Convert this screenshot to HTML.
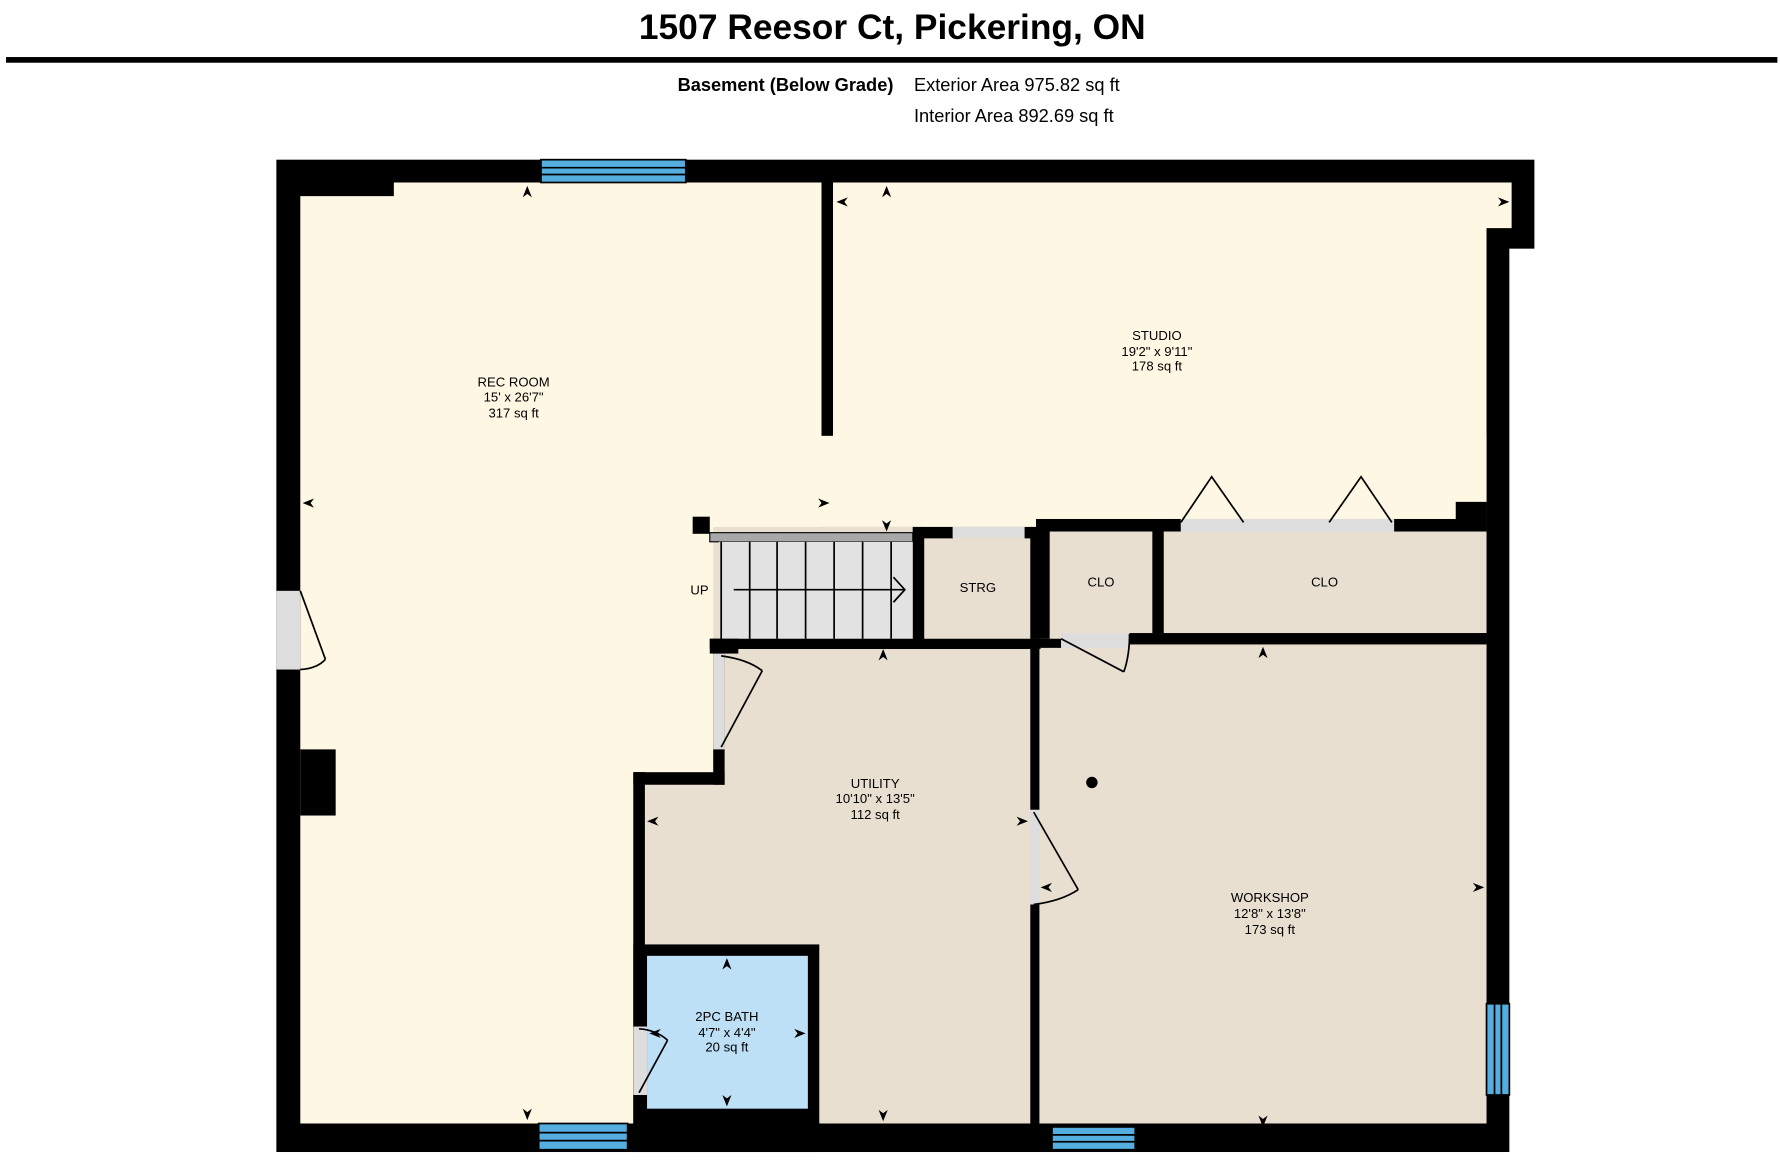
<!DOCTYPE html>
<html><head><meta charset="utf-8"><style>
html,body{margin:0;padding:0;background:#fff;}
svg{display:block;}
text{font-family:"Liberation Sans",Arial,sans-serif;}
</style></head><body>
<svg width="1780" height="1160" viewBox="0 0 1560 1017" xmlns="http://www.w3.org/2000/svg">
<defs>
<path id="ar" d="M0,0 L-10,-4 L-7,0 L-10,4 Z" fill="#000"/>
</defs>
<rect width="1560" height="1017" fill="#fff"/>
<text x="782" y="34" font-size="31" font-weight="bold" text-anchor="middle">1507 Reesor Ct, Pickering, ON</text>
<rect x="5" y="50" width="1553" height="5" fill="#000"/>
<text x="783" y="80" font-size="16" font-weight="bold" text-anchor="end">Basement (Below Grade)</text>
<text x="801" y="80" font-size="16">Exterior Area 975.82 sq ft</text>
<text x="801" y="107" font-size="16">Interior Area 892.69 sq ft</text>

<rect x="242" y="140" width="1103" height="870" fill="#000"/>
<rect x="1323" y="218" width="40" height="800" fill="#fff"/>
<rect x="1345" y="140" width="20" height="80" fill="#fff"/>
<polygon points="263,172 345,172 345,160 720,160 720,462 607,462 607,677 555,677 555,985 263,985" fill="#fdf7e3"/>
<polygon points="730,160 1325,160 1325,200 1303,200 1303,440 1276,440 1276,455 730,455" fill="#fdf7e3"/>
<rect x="620" y="382" width="683" height="80" fill="#fdf7e3"/>
<rect x="1276" y="440" width="27" height="25" fill="#000"/>
<rect x="720" y="160" width="10" height="222" fill="#000"/>
<rect x="565" y="462" width="738" height="523" fill="#e8dfd0"/>
<rect x="565" y="462" width="60" height="215" fill="#fdf7e3"/>
<rect x="555" y="677" width="10" height="308" fill="#000"/>
<rect x="555" y="677" width="80" height="11" fill="#000"/>
<rect x="625" y="560" width="10" height="128" fill="#000"/>
<rect x="625" y="573" width="10" height="84" fill="#ddd"/>
<rect x="607" y="453" width="15" height="15" fill="#000"/>
<rect x="622" y="467" width="178" height="8" fill="#a8a8a8" stroke="#000" stroke-width="1"/>
<rect x="630" y="475" width="170" height="85" fill="#e2e2e2"/>
<g stroke="#000" stroke-width="1.5">
<line x1="632" y1="475" x2="632" y2="560"/><line x1="657" y1="475" x2="657" y2="560"/><line x1="681" y1="475" x2="681" y2="560"/><line x1="706" y1="475" x2="706" y2="560"/><line x1="731" y1="475" x2="731" y2="560"/><line x1="756" y1="475" x2="756" y2="560"/><line x1="781" y1="475" x2="781" y2="560"/>
<line x1="643" y1="517" x2="793" y2="517"/><polyline points="783,506 793,517 783,528" fill="none"/>
</g>
<rect x="800" y="462" width="35" height="10" fill="#000"/>
<rect x="835" y="462" width="65" height="9" fill="#ddd"/>
<rect x="898" y="462" width="10" height="10" fill="#000"/>
<rect x="908" y="455" width="127" height="11" fill="#000"/>
<rect x="1035" y="455" width="187" height="11" fill="#ddd"/>
<rect x="1222" y="455" width="81" height="11" fill="#000"/>
<rect x="800" y="462" width="10" height="103" fill="#000"/>
<rect x="903" y="462" width="17" height="98" fill="#000"/>
<rect x="1010" y="462" width="10" height="93" fill="#000"/>
<rect x="622" y="560" width="290" height="9" fill="#000"/>
<rect x="622" y="560" width="25" height="13" fill="#000"/>
<rect x="903" y="560" width="27" height="8" fill="#000"/>
<rect x="930" y="555" width="60" height="13" fill="#ddd"/>
<rect x="990" y="555" width="313" height="10" fill="#000"/>
<rect x="903" y="560" width="8" height="150" fill="#000"/>
<rect x="903" y="710" width="8" height="83" fill="#ddd"/>
<rect x="903" y="793" width="8" height="192" fill="#000"/>
<rect x="555" y="828" width="163" height="182" fill="#000"/>
<rect x="567" y="838" width="141" height="134" fill="#bde0f7"/>
<rect x="555" y="900" width="12" height="60" fill="#ddd"/>
<rect x="242" y="518" width="21" height="69" fill="#ddd"/>
<rect x="263" y="657" width="31" height="58" fill="#000"/>
<g fill="#55aee0" stroke="#000" stroke-width="1.5">
<rect x="474" y="140" width="127" height="20"/>
<rect x="472" y="985" width="78" height="23"/>
<rect x="922" y="988" width="73" height="20"/>
<rect x="1303" y="880" width="20" height="80"/>
</g>
<g stroke="#000" stroke-width="1.5">
<line x1="474" y1="147" x2="601" y2="147"/><line x1="474" y1="153" x2="601" y2="153"/>
<line x1="472" y1="993" x2="550" y2="993"/><line x1="472" y1="1000" x2="550" y2="1000"/>
<line x1="922" y1="995" x2="995" y2="995"/><line x1="922" y1="1001" x2="995" y2="1001"/>
<line x1="1310" y1="880" x2="1310" y2="960"/><line x1="1316" y1="880" x2="1316" y2="960"/>
</g>
<g stroke="#000" stroke-width="1.5" fill="none">
<line x1="263" y1="518" x2="285" y2="578"/><path d="M285,578 Q278,586 263,587"/>
<line x1="668" y1="588" x2="632" y2="655"/><path d="M632,575 Q655,578 668,588"/>
<line x1="930" y1="560" x2="985" y2="589"/><path d="M985,589 Q990,575 990,556"/>
<line x1="906" y1="712" x2="945" y2="780"/><path d="M945,780 Q930,790 906,793"/>
<line x1="560" y1="958" x2="585" y2="912"/><path d="M560,902 Q575,903 585,912"/>
<polyline points="1035,458 1062,418 1090,458"/>
<polyline points="1165,458 1193,418 1220,458"/>
</g>
<circle cx="957" cy="686" r="5" fill="#000"/>
<use href="#ar" transform="translate(462,163) rotate(-90)"/>
<use href="#ar" transform="translate(462,982) rotate(90)"/>
<use href="#ar" transform="translate(265,441) rotate(180)"/>
<use href="#ar" transform="translate(727,441)"/>
<use href="#ar" transform="translate(733,177) rotate(180)"/>
<use href="#ar" transform="translate(777,163) rotate(-90)"/>
<use href="#ar" transform="translate(1323,177)"/>
<use href="#ar" transform="translate(777,466) rotate(90)"/>
<use href="#ar" transform="translate(774,569) rotate(-90)"/>
<use href="#ar" transform="translate(774,983) rotate(90)"/>
<use href="#ar" transform="translate(567,720) rotate(180)"/>
<use href="#ar" transform="translate(901,720)"/>
<use href="#ar" transform="translate(1107,567) rotate(-90)"/>
<use href="#ar" transform="translate(1107,988) rotate(90)"/>
<use href="#ar" transform="translate(912,778) rotate(180)"/>
<use href="#ar" transform="translate(1301,778)"/>
<use href="#ar" transform="translate(637,840) rotate(-90)"/>
<use href="#ar" transform="translate(637,970) rotate(90)"/>
<use href="#ar" transform="translate(569,906) rotate(180)"/>
<use href="#ar" transform="translate(706,906)"/>
<g font-size="11.5" text-anchor="middle">
<text x="450" y="339">REC ROOM</text><text x="450" y="352">15' x 26'7"</text><text x="450" y="366">317 sq ft</text>
<text x="1014" y="298">STUDIO</text><text x="1014" y="312">19'2" x 9'11"</text><text x="1014" y="325">178 sq ft</text>
<text x="767" y="691">UTILITY</text><text x="767" y="704">10'10" x 13'5"</text><text x="767" y="718">112 sq ft</text>
<text x="1113" y="791">WORKSHOP</text><text x="1113" y="805">12'8" x 13'8"</text><text x="1113" y="819">173 sq ft</text>
<text x="637" y="895">2PC BATH</text><text x="637" y="909">4'7" x 4'4"</text><text x="637" y="922">20 sq ft</text>
<text x="857" y="519">STRG</text><text x="965" y="514">CLO</text><text x="1161" y="514">CLO</text><text x="613" y="521">UP</text>
</g>
</svg>
</body></html>
